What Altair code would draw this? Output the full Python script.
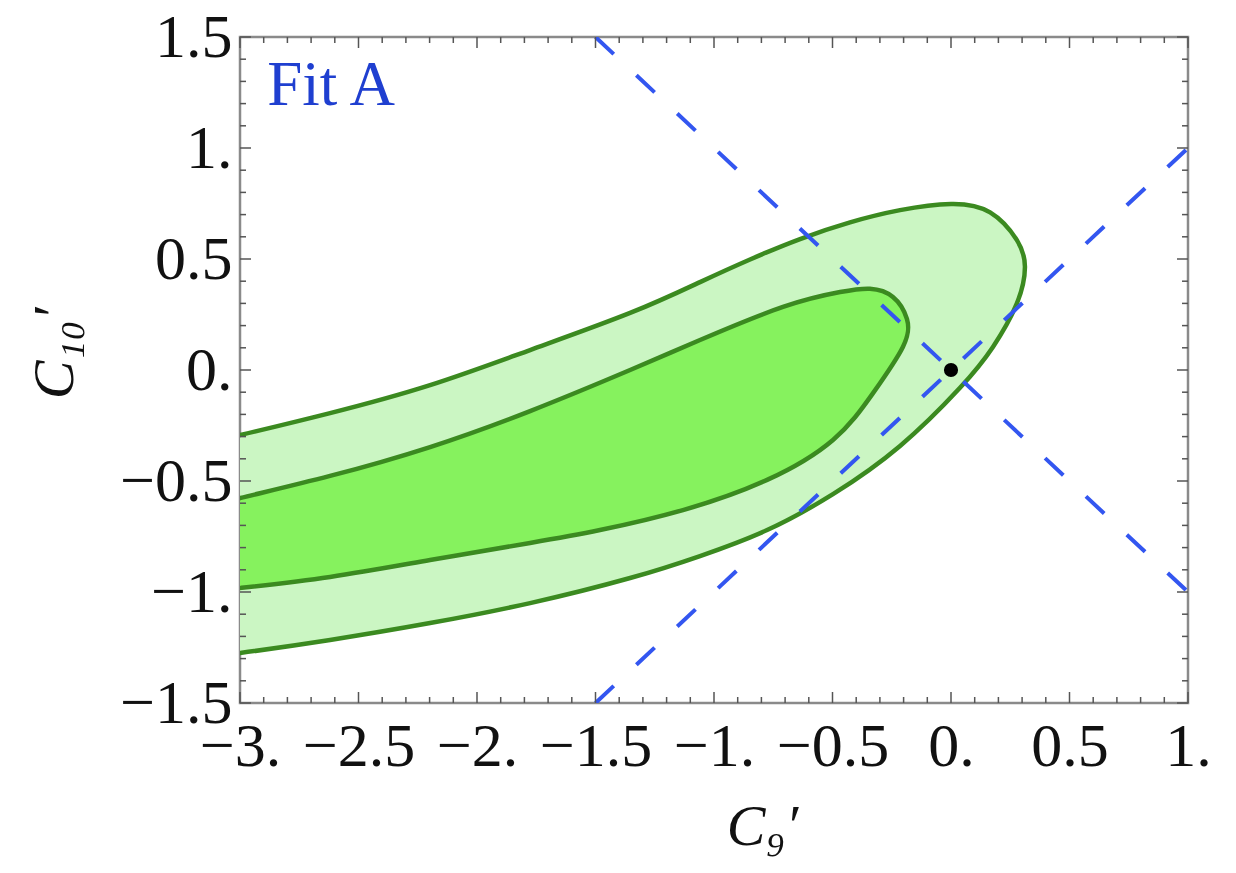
import altair as alt
import pandas as pd
import numpy as np

# ---- contour data ----
outer_x = [-3.15, -3.0, -2.62, -2.198, -1.776, -1.354, -1.059, -0.848, -0.637, -0.426, -0.215, 0.0, 0.165,
           0.278, 0.312, 0.278, 0.177, 0.038, -0.215, -0.498, -0.776, -1.059, -1.354, -1.776, -2.198,
           -2.62, -3.0, -3.15]
outer_y = [-0.33, -0.293, -0.194, -0.068, 0.09, 0.257, 0.396, 0.498, 0.59, 0.665, 0.72, 0.748, 0.71,
           0.585, 0.464, 0.30, 0.104, -0.08, -0.342, -0.559, -0.721, -0.838, -0.937, -1.05, -1.14,
           -1.216, -1.275, -1.295]

inner_x = [-3.15, -3.0, -2.62, -2.198, -1.776, -1.354, -1.059, -0.709, -0.468, -0.342, -0.245, -0.186,
           -0.203, -0.329, -0.498, -0.776, -1.131, -1.481, -1.776, -2.198, -2.62, -3.0, -3.15]
inner_y = [-0.62, -0.577, -0.477, -0.347, -0.185, 0.0, 0.135, 0.284, 0.351, 0.366, 0.329, 0.23,
           0.104, -0.104, -0.315, -0.495, -0.631, -0.721, -0.779, -0.856, -0.932, -0.982, -1.0]

# dashed reference lines
line_series = ["a", "a", "b", "b"]
line_x = [-1.5, 1.0, -1.5, 1.0]
line_y = [1.5, -1.0, -1.5, 1.0]

# best-fit / SM point
pt_x = [0.0]
pt_y = [0.0]

# annotation
note_text = ["Fit A"]
note_x = [-2.885]
note_y = [1.195]

# ticks
x_major = [-3.0, -2.5, -2.0, -1.5, -1.0, -0.5, 0.0, 0.5, 1.0]
x_labels = ["−3.", "−2.5", "−2.", "−1.5", "−1.", "−0.5", "0.", "0.5", "1."]
y_major = [-1.5, -1.0, -0.5, 0.0, 0.5, 1.0, 1.5]
y_labels = ["−1.5", "−1.", "−0.5", "0.", "0.5", "1.", "1.5"]
x_minor = [round(v, 2) for v in np.arange(-3.0, 1.0001, 0.1) if all(abs(v - m) > 1e-6 for m in x_major)]
y_minor = [round(v, 2) for v in np.arange(-1.5, 1.5001, 0.1) if all(abs(v - m) > 1e-6 for m in y_major)]

W, H = 948, 666
FONT = "Liberation Serif"
LIGHT = "#cbf6c3"
DARK = "#86f25e"
EDGE = "#3b8a20"
BLUE = "#3356f0"


def label_expr(vals, labels):
    s = "''"
    for v, l in reversed(list(zip(vals, labels))):
        s = f"datum.value == {v} ? '{l}' : {s}"
    return s


xs = alt.Scale(domain=[-3, 1], nice=False, zero=False)
ys = alt.Scale(domain=[-1.5, 1.5], nice=False, zero=False)

xaxis = alt.Axis(values=x_major, labelExpr=label_expr(x_major, x_labels), ticks=False, domain=False,
                 grid=False, labelFont=FONT, labelFontSize=62, labelColor="#111", labelPadding=13,
                 labelFlush=False, labelOverlap=False,
                 title="C₉′", titleFont=FONT, titleFontStyle="italic", titleFontWeight="normal",
                 titleFontSize=58, titleColor="#111", titleX=522, titleY=141, titleBaseline="alphabetic",
                 titleAlign="center")
yaxis = alt.Axis(values=y_major, labelExpr=label_expr(y_major, y_labels), ticks=False, domain=False,
                 grid=False, labelFont=FONT, labelFontSize=62, labelColor="#111", labelPadding=8,
                 labelFlush=False, labelOverlap=False, labelBaseline="middle",
                 title="C₁₀′", titleFont=FONT, titleFontStyle="italic", titleFontWeight="normal",
                 titleFontSize=58, titleColor="#111", titleX=-168, titleY=316, titleAngle=270,
                 titleBaseline="alphabetic", titleAlign="center")


def X(field):
    return alt.X(field, type="quantitative", scale=xs, axis=xaxis)


def Y(field):
    return alt.Y(field, type="quantitative", scale=ys, axis=yaxis)


def poly(xv, yv, fill):
    df = pd.DataFrame({"x": xv, "y": yv, "i": range(len(xv))})
    return alt.Chart(df).mark_line(fill=fill, stroke=EDGE, strokeWidth=4.5, interpolate="natural",
                                   clip=True, strokeJoin="round").encode(
        x=X("x"), y=Y("y"), order=alt.Order("i:Q"))


outer = poly(outer_x, outer_y, LIGHT)
inner = poly(inner_x, inner_y, DARK)

lines_df = pd.DataFrame({"s": line_series, "x": line_x, "y": line_y})
dashed = alt.Chart(lines_df).mark_line(color=BLUE, strokeWidth=4, strokeDash=[25, 31], clip=True).encode(
    x=X("x"), y=Y("y"), detail="s:N")

point = alt.Chart(pd.DataFrame({"x": pt_x, "y": pt_y})).mark_point(
    filled=True, color="black", size=200, opacity=1).encode(x=X("x"), y=Y("y"))

note = alt.Chart(pd.DataFrame({"x": note_x, "y": note_y, "t": note_text})).mark_text(
    align="left", baseline="alphabetic", font=FONT, fontSize=63, color="#1f3fd0").encode(
    x=X("x"), y=Y("y"), text="t:N")

TICK = "#555555"
tick_layers = []
for vals, ln in [(x_major, 11), (x_minor, 6)]:
    df = pd.DataFrame({"v": vals})
    tick_layers.append(alt.Chart(df).mark_rule(color=TICK, strokeWidth=1.5).encode(
        x=X("v"), y=alt.value(H), y2=alt.value(H - ln)))
    tick_layers.append(alt.Chart(df).mark_rule(color=TICK, strokeWidth=1.5).encode(
        x=X("v"), y=alt.value(0), y2=alt.value(ln)))
for vals, ln in [(y_major, 11), (y_minor, 6)]:
    df = pd.DataFrame({"v": vals})
    tick_layers.append(alt.Chart(df).mark_rule(color=TICK, strokeWidth=1.5).encode(
        y=Y("v"), x=alt.value(0), x2=alt.value(ln)))
    tick_layers.append(alt.Chart(df).mark_rule(color=TICK, strokeWidth=1.5).encode(
        y=Y("v"), x=alt.value(W), x2=alt.value(W - ln)))

chart = alt.layer(outer, inner, dashed, point, note, *tick_layers).properties(
    width=W, height=H,
    autosize=alt.AutoSizeParams(type="none"),
    padding={"left": 240, "top": 37, "right": 48, "bottom": 170},
    background="white",
).configure_view(stroke="#8a8a8a", strokeWidth=2.5)

chart.save("out.html", embed_options={"renderer": "svg", "actions": False})
